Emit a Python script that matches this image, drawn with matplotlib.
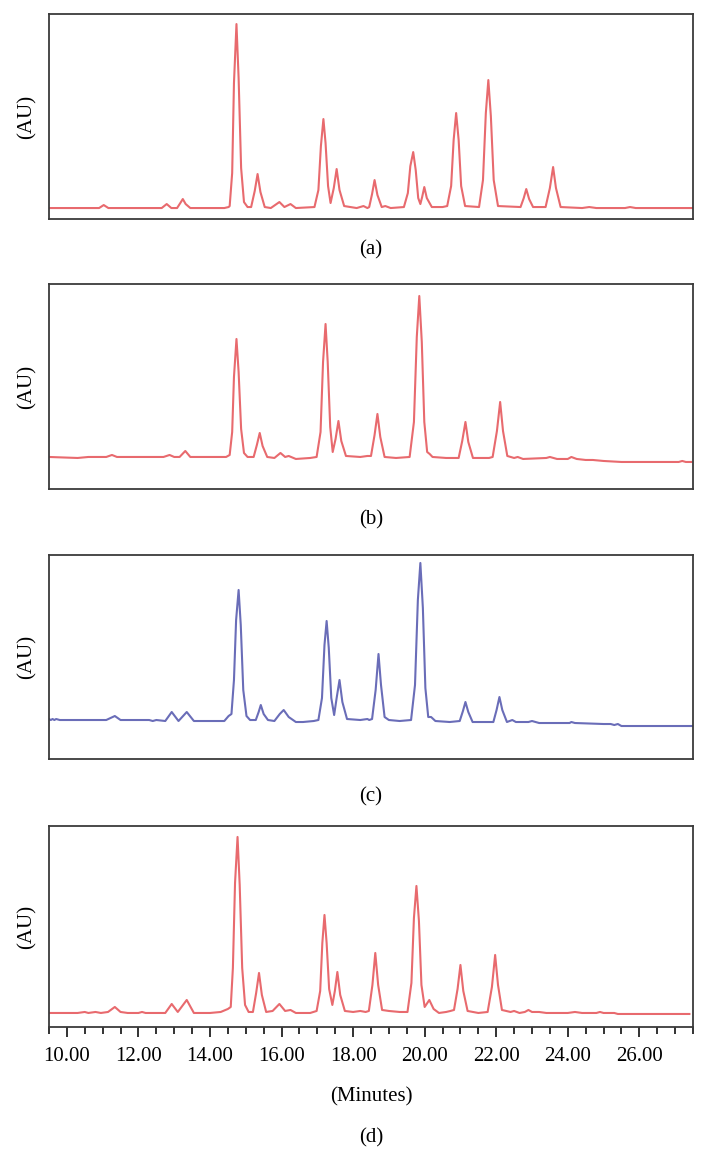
import matplotlib
matplotlib.use("Agg")
import matplotlib.pyplot as plt
from matplotlib.ticker import MultipleLocator, FormatStrFormatter

plt.rcParams['font.family'] = ['Liberation Serif', 'DejaVu Serif']

# traced chromatogram vertices (time in minutes, signal in arbitrary units)
time_a = [9.5, 10.9, 11.03, 11.16, 12.65, 12.79, 12.92, 13.08, 13.17, 13.24, 13.32, 13.45,
          14.4, 14.52, 14.55, 14.62, 14.67, 14.74, 14.8, 14.87, 14.95, 15.05,
          15.15, 15.25, 15.33, 15.41, 15.53, 15.7, 15.82, 15.94, 16.08, 16.25, 16.4,
          16.92, 17.03, 17.1, 17.17, 17.23, 17.3, 17.37, 17.46, 17.54, 17.62, 17.75,
          18.1, 18.29, 18.4, 18.45, 18.53, 18.6, 18.68, 18.8, 18.9, 19.05,
          19.42, 19.53, 19.6, 19.68, 19.75, 19.82, 19.88, 19.93, 19.99, 20.06, 20.2, 20.5,
          20.63, 20.74, 20.81, 20.88, 20.95, 21.02, 21.13,
          21.52, 21.63, 21.71, 21.78, 21.85, 21.93, 22.05,
          22.68, 22.77, 22.84, 22.92, 23.03, 23.38, 23.5, 23.59, 23.67, 23.8,
          24.4, 24.6, 24.8, 25.6, 25.74, 25.9, 27.5]
signal_a = [0, 0, 3, 0, 0, 4, 0, 0, 5, 9, 4, 0,
            0, 1, 2, 35, 125, 184, 130, 40, 6, 1,
            1, 17, 34, 16, 1, 0, 3, 6, 1, 4, 0,
            1, 18, 62, 89, 65, 22, 5, 20, 39, 18, 2,
            0, 2, 0, 1, 14, 28, 13, 1, 2, 0,
            1, 15, 42, 56, 38, 10, 4, 11, 21, 10, 1, 1,
            2, 22, 68, 95, 68, 22, 2,
            1, 28, 95, 128, 92, 28, 2,
            1, 10, 19, 9, 1, 1, 20, 41, 20, 1,
            0, 1, 0, 0, 1, 0, 0]

time_b = [9.5, 10.3, 10.6, 11.1, 11.26, 11.4, 12.7, 12.87, 13.0, 13.15, 13.31, 13.45,
          14.45, 14.55, 14.62, 14.67, 14.74, 14.8, 14.87, 14.95, 15.05,
          15.22, 15.31, 15.39, 15.47, 15.6, 15.8, 15.97, 16.1, 16.2, 16.4, 16.8,
          16.98, 17.09, 17.16, 17.23, 17.29, 17.36, 17.43, 17.51, 17.59, 17.67, 17.8,
          18.2, 18.4, 18.5, 18.6, 18.68, 18.76, 18.88, 19.2,
          19.58, 19.7, 19.78, 19.85, 19.92, 19.99, 20.07, 20.14, 20.22, 20.6,
          20.95, 21.05, 21.14, 21.22, 21.35, 21.8,
          21.9, 22.02, 22.11, 22.19, 22.31, 22.5, 22.6, 22.75, 23.4, 23.5, 23.7,
          24.0, 24.1, 24.25, 24.5, 24.7, 25.0, 25.5, 27.1, 27.2, 27.3, 27.45]
signal_b = [0, -1, 0, 0, 2, 0, 0, 2, 0, 0, 6, 0,
            0, 2, 25, 80, 118, 85, 28, 4, 0,
            0, 12, 24, 11, 0, -1, 4, 0, 1, -2, -1,
            0, 25, 95, 133, 95, 30, 5, 18, 36, 16, 1,
            0, 1, 1, 22, 43, 20, 0, -1,
            0, 35, 120, 161, 115, 35, 5, 3, 0, -1,
            -1, 16, 35, 15, -1, -1,
            0, 26, 55, 26, 1, -1, 0, -2, -1, 0, -2,
            -2, 0, -2, -3, -3, -4, -5, -5, -4, -5, -5]

time_c = [9.5, 9.55, 9.6, 9.65, 9.7, 9.8, 11.1, 11.34, 11.5, 12.3, 12.4, 12.5,
          12.75, 12.93, 13.12, 13.35, 13.55, 14.4, 14.52, 14.6,
          14.67, 14.73, 14.8, 14.86, 14.93, 15.02, 15.12,
          15.28, 15.36, 15.42, 15.5, 15.62, 15.8, 15.95, 16.06, 16.2, 16.4, 16.6, 16.9,
          17.03, 17.13, 17.2, 17.26, 17.32, 17.39, 17.47, 17.54, 17.62, 17.7, 17.83,
          18.2, 18.4, 18.45, 18.53, 18.63, 18.71, 18.78, 18.88, 19.0, 19.3,
          19.62, 19.73, 19.81, 19.88, 19.95, 20.02, 20.1, 20.18, 20.3, 20.7,
          20.98, 21.07, 21.14, 21.22, 21.34, 21.8,
          21.92, 22.01, 22.09, 22.17, 22.3, 22.45, 22.55, 22.9, 23.0, 23.2, 23.6,
          24.05, 24.1, 24.2, 25.0, 25.2, 25.3, 25.4, 25.5, 27.5]
signal_c = [1, 0, 1, 0, 1, 0, 0, 4, 0, 0, -1, 0,
            -1, 8, -1, 8, -1, -1, 4, 6,
            40, 100, 130, 95, 30, 4, 0,
            0, 8, 15, 6, 0, -1, 6, 10, 3, -2, -2, -1,
            0, 22, 75, 99, 72, 22, 5, 22, 40, 18, 1,
            0, 1, 0, 1, 30, 66, 35, 3, 0, -1,
            0, 35, 120, 157, 112, 32, 3, 3, -1, -2,
            -1, 9, 18, 8, -2, -2,
            -2, 10, 23, 10, -2, 0, -2, -2, -1, -3, -3,
            -3, -2, -3, -4, -4, -5, -4, -6, -6]

time_d = [9.5, 10.3, 10.5, 10.6, 10.8, 10.95, 11.15, 11.34, 11.5, 11.7, 12.0, 12.1, 12.2,
          12.75, 12.93, 13.1, 13.35, 13.55, 14.0, 14.3, 14.5, 14.58,
          14.64, 14.7, 14.77, 14.83, 14.9, 14.98, 15.08,
          15.2, 15.29, 15.37, 15.45, 15.57, 15.75, 15.94, 16.1, 16.25, 16.4, 16.8,
          16.98, 17.08, 17.14, 17.2, 17.26, 17.33, 17.42, 17.49, 17.56, 17.64, 17.77,
          18.0, 18.2, 18.35, 18.44, 18.54, 18.62, 18.7, 18.81, 19.0, 19.3,
          19.52, 19.63, 19.7, 19.77, 19.84, 19.91, 20.0, 20.13, 20.25, 20.4,
          20.6, 20.72, 20.82, 20.92, 21.0, 21.08, 21.2, 21.5,
          21.76, 21.88, 21.97, 22.05, 22.16, 22.4, 22.5, 22.65, 22.8, 22.9, 23.0,
          23.2, 23.4, 24.0, 24.2, 24.4, 24.8, 24.9, 25.0, 25.3, 25.4, 27.4]
signal_d = [0, 0, 1, 0, 1, 0, 1, 6, 1, 0, 0, 1, 0,
            0, 9, 1, 13, 0, 0, 1, 4, 6,
            45, 130, 176, 128, 45, 8, 1,
            1, 20, 40, 18, 1, 2, 9, 2, 3, 0, 0,
            2, 22, 70, 98, 70, 24, 8, 22, 41, 18, 2,
            1, 2, 1, 2, 28, 60, 28, 3, 2, 1,
            1, 30, 95, 127, 92, 28, 6, 13, 4, 0,
            1, 2, 3, 24, 48, 22, 2, 0,
            1, 26, 58, 28, 3, 1, 2, 0, 1, 3, 1,
            1, 0, 0, 1, 0, 0, 1, 0, 0, -1, -1]

panels = [
    ("(a)", time_a, signal_a, (-11, 194), '#e86a6e'),
    ("(b)", time_b, signal_b, (-32, 173), '#e86a6e'),
    ("(c)", time_c, signal_c, (-39, 165), '#6a6db8'),
    ("(d)", time_d, signal_d, (-14, 187), '#e86a6e'),
]

# axes boxes [left, bottom, width, height] in figure fraction
boxes = [
    [0.0692, 0.8115, 0.9096, 0.1764],
    [0.0692, 0.5792, 0.9096, 0.1764],
    [0.0692, 0.3468, 0.9096, 0.1756],
    [0.0692, 0.1162, 0.9096, 0.1730],
]
label_y = [1 - 250 / 1162, 1 - 520 / 1162, 1 - 797 / 1162, 1 - 1138 / 1162]

fig = plt.figure(figsize=(7.08, 11.62), dpi=100)

for i, (name, t, s, ylim, color) in enumerate(panels):
    ax = fig.add_axes(boxes[i])
    ax.plot(t, s, color=color, lw=1.5, solid_joinstyle='round')
    ax.set_xlim(9.5, 27.5)
    ax.set_ylim(*ylim)
    for sp in ax.spines.values():
        sp.set_color('#3a3a3a')
        sp.set_linewidth(1.3)
    ax.set_yticks([])
    ax.set_ylabel("(AU)", fontsize=15, labelpad=9)
    if i < 3:
        ax.set_xticks([])
    else:
        ax.xaxis.set_minor_locator(MultipleLocator(0.5))
        ax.xaxis.set_major_formatter(FormatStrFormatter('%.2f'))
        ax.set_xticks([10, 12, 14, 16, 18, 20, 22, 24, 26])
        ax.tick_params(axis='x', which='major', length=7.5, width=1.3,
                       color='#222222', labelsize=15, pad=7)
        ax.tick_params(axis='x', which='minor', length=5, width=1.3,
                       color='#222222')
    fig.text(0.524, label_y[i], name, ha='center', va='center', fontsize=15)

fig.text(0.524, 1 - 1097 / 1162, "(Minutes)", ha='center', va='center', fontsize=15)

fig.savefig("out.png", dpi=100)
